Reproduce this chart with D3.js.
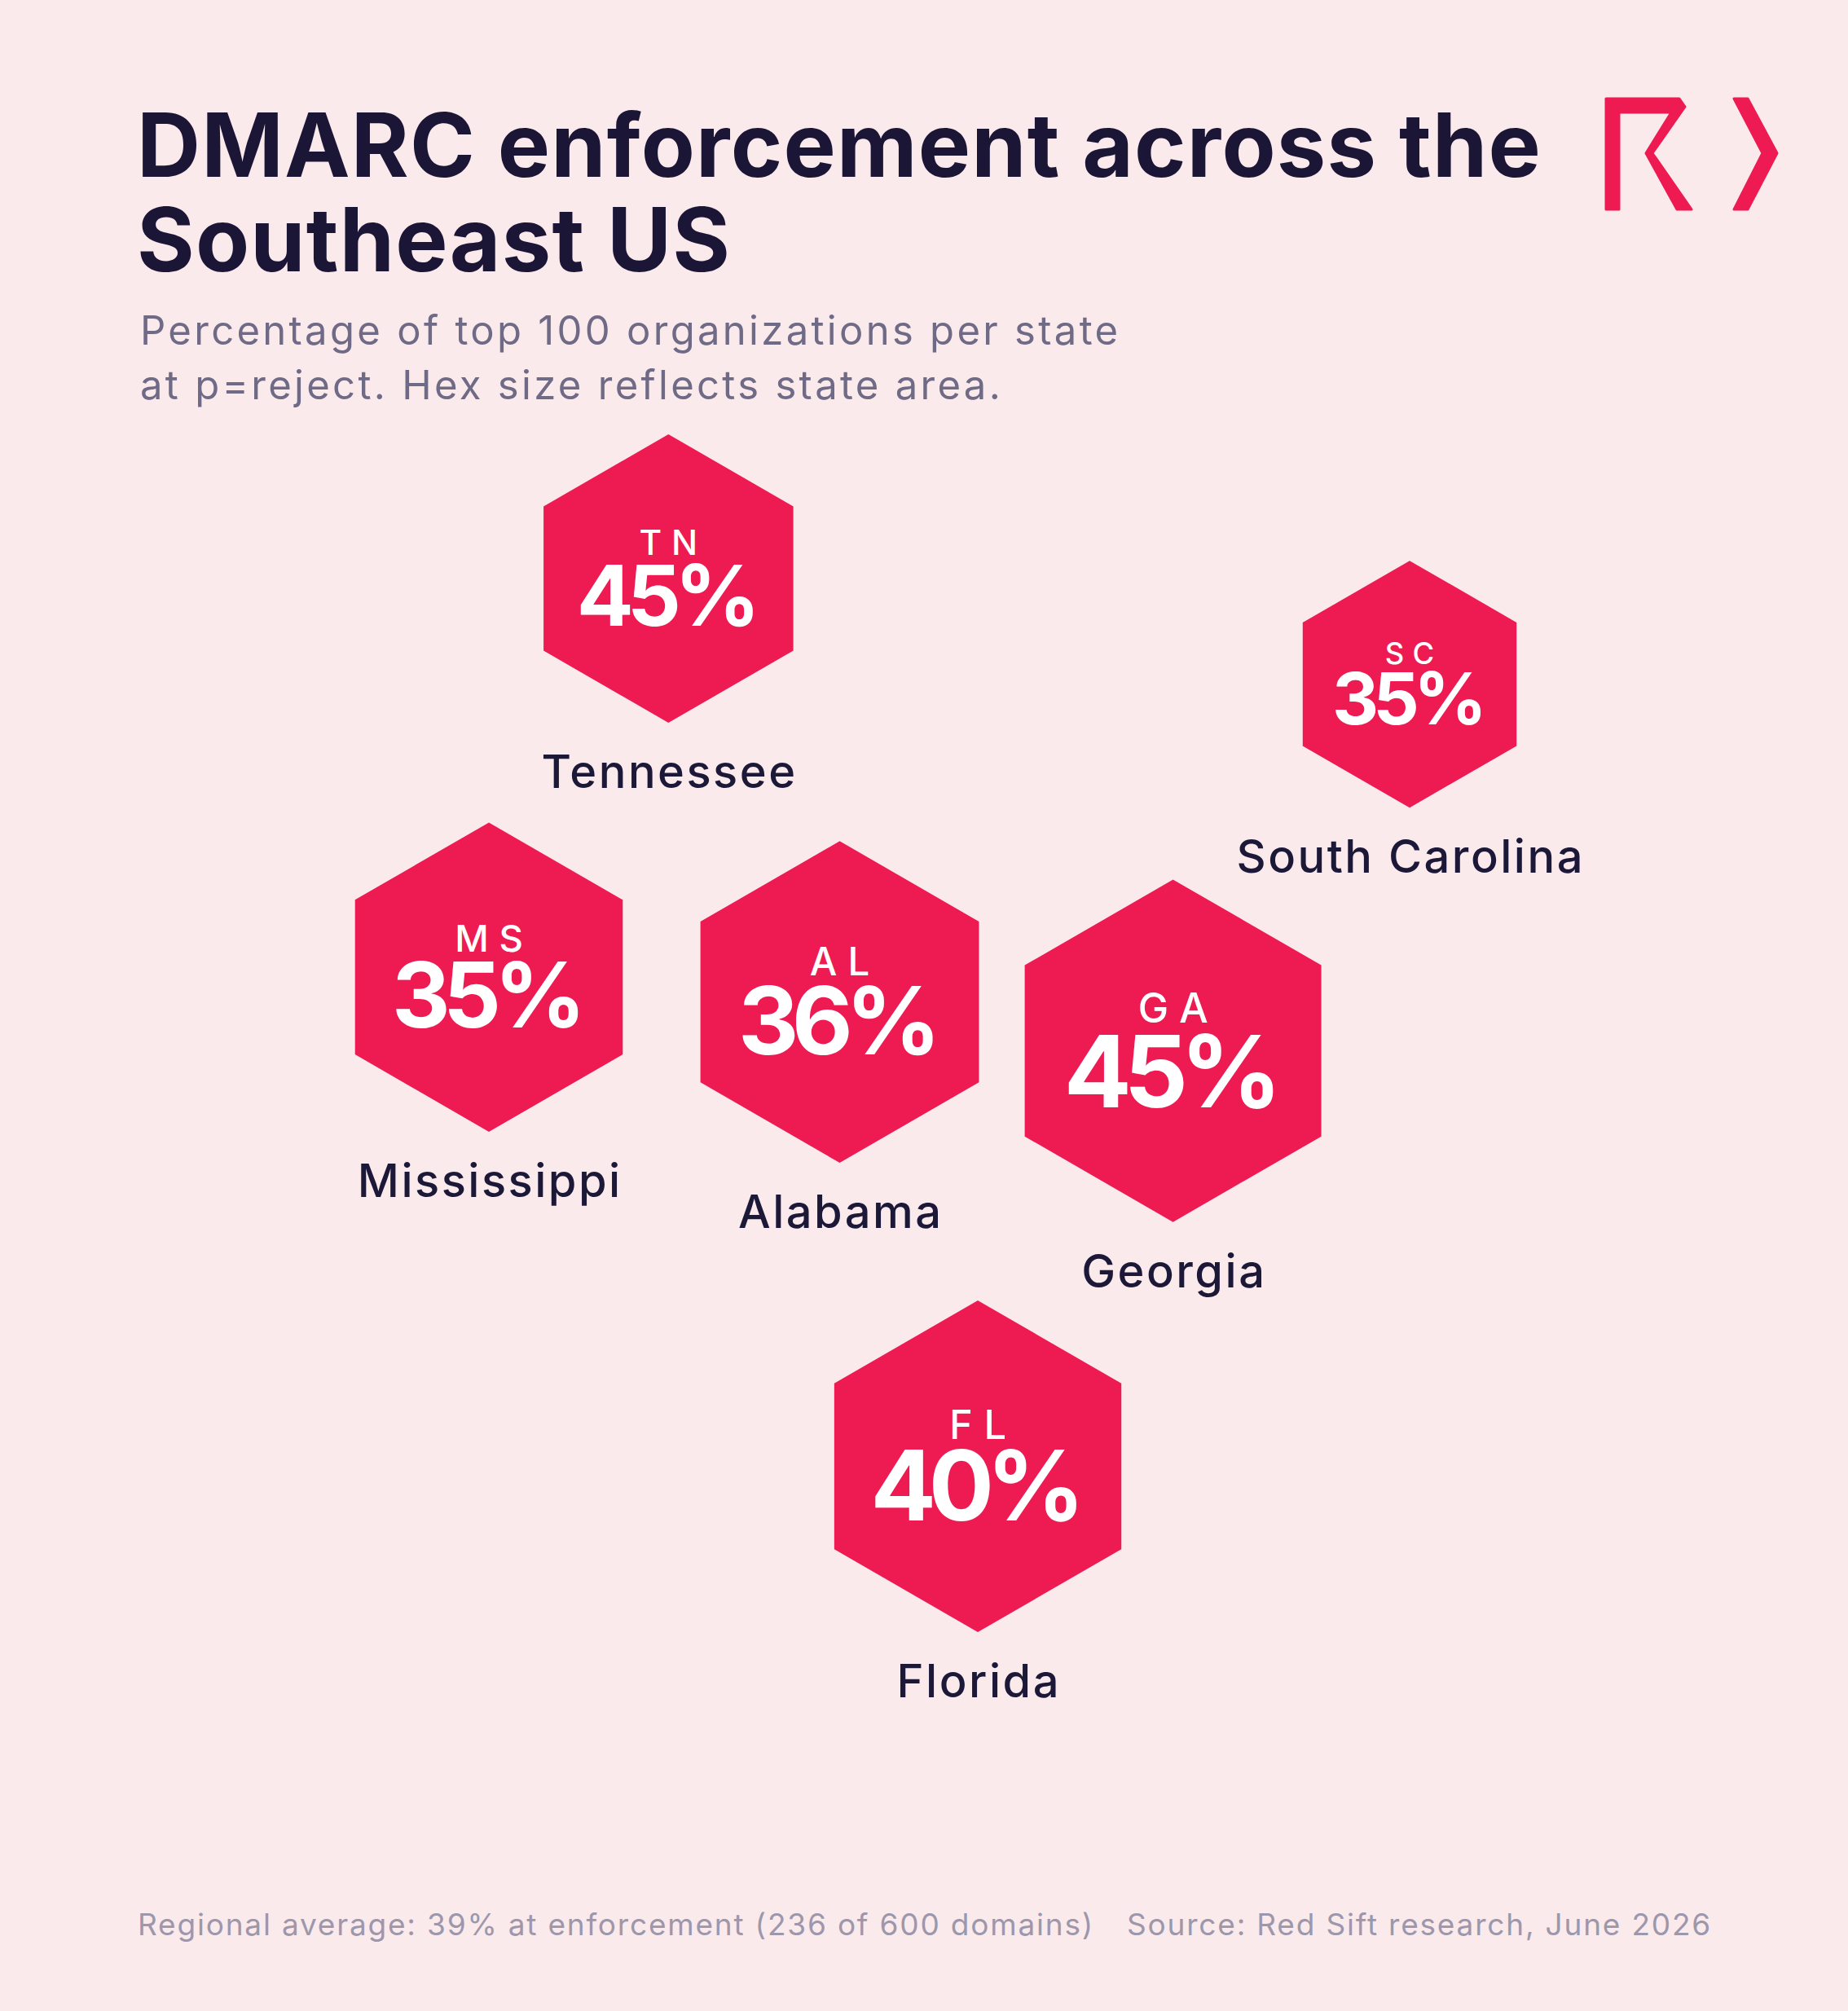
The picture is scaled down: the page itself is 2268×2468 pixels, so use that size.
<!DOCTYPE html>
<html>
<head>
<meta charset="utf-8">
<script src="https://cdn.jsdelivr.net/npm/d3@7"></script>
<style>
  html, body { margin: 0; padding: 0; background: #fbeaec; }
  svg { display: block; }
  text { font-family: Inter, "Noto Sans", sans-serif; }
</style>
</head>
<body>
<svg id="chart" width="2268" height="2468"></svg>
<script>
// ---- data ----
const states      = ["Tennessee", "South Carolina", "Mississippi", "Alabama", "Georgia", "Florida"];
const abbrevs     = ["TN", "SC", "MS", "AL", "GA", "FL"];
const pctReject   = [45, 35, 35, 36, 45, 40];            // % of top 100 orgs at p=reject
const stateArea   = [42144, 30900, 48430, 52420, 59425, 55700];
const layoutCol   = [0.195, 1.0, 0.0, 0.381, 0.743, 0.531]; // relative layout position
const layoutRow   = [0.0, 0.119, 0.449, 0.477, 0.532, 1.0];
const orgsPerState = 100;

const titleLines    = ["DMARC enforcement across the", "Southeast US"];
const subtitleLines = ["Percentage of top 100 organizations per state", "at p=reject. Hex size reflects state area."];
const sourceText    = "Source: Red Sift research, June 2026";

// ---- setup ----
const W = 2268, H = 2468;
const svg = d3.select("#chart");
svg.append("rect").attr("width", W).attr("height", H).attr("fill", "#fbeaec");

const COLOR_HEX = "#ee1a52";
const COLOR_INK = "#1c1838";

// title
svg.append("g").selectAll("text").data(titleLines).join("text")
  .attr("x", 168).attr("y", (d, i) => 217 + i * 116)
  .attr("font-size", 108).attr("font-weight", 700)
  .attr("fill", "#1b1536").attr("letter-spacing", 1.2)
  .text(d => d);

// subtitle
svg.append("g").selectAll("text").data(subtitleLines).join("text")
  .attr("x", 172).attr("y", (d, i) => 423 + i * 67)
  .attr("font-size", 49).attr("font-weight", 400)
  .attr("fill", "#6f6a85").attr("letter-spacing", 3.3)
  .text(d => d);

// logo
const logo = svg.append("g").attr("fill", COLOR_HEX).attr("stroke", COLOR_HEX)
  .attr("stroke-width", 3).attr("stroke-linejoin", "round");
logo.append("path").attr("d",
  "M1971,121 L2061,121 L2068,131 L2028,188 L2076,257 L2058,257 L2020,188 L2051,138 L1987,138 L1987,257 L1971,257 Z");
logo.append("path").attr("d",
  "M2128,121 L2145,121 L2181,188 L2145,257 L2128,257 L2163,188 Z");

// scales
const x = d3.scaleLinear().domain([0, 1]).range([600, 1730]);
const y = d3.scaleLinear().domain([0, 1]).range([710, 1799.5]);
const r = d3.scaleSqrt().domain([0, d3.max(stateArea)]).range([0, 0.862 * Math.sqrt(d3.max(stateArea))]);

const data = states.map((s, i) => ({
  name: s, abbr: abbrevs[i], pct: pctReject[i], area: stateArea[i],
  cx: x(layoutCol[i]), cy: y(layoutRow[i]), R: r(stateArea[i])
}));

function hexPath(cx, cy, R) {
  const pts = d3.range(6).map(k => {
    const a = -Math.PI / 2 + k * Math.PI / 3;
    return [cx + R * Math.cos(a), cy + R * Math.sin(a)];
  });
  return d3.line()(pts) + "Z";
}

const g = svg.append("g").selectAll("g").data(data).join("g");

g.append("path")
  .attr("d", d => hexPath(d.cx, d.cy, d.R))
  .attr("fill", COLOR_HEX);

g.append("text")
  .attr("x", d => d.cx).attr("y", d => d.cy - 0.164 * d.R)
  .attr("text-anchor", "middle")
  .attr("font-size", d => 0.24 * d.R).attr("font-weight", 500)
  .attr("letter-spacing", d => 0.24 * d.R * 0.28)
  .attr("fill", "#ffffff")
  .attr("dx", d => 0.24 * d.R * 0.14)
  .text(d => d.abbr);

g.append("text")
  .attr("x", d => d.cx).attr("y", d => d.cy + 0.328 * d.R)
  .attr("text-anchor", "middle")
  .attr("font-size", d => 0.585 * d.R).attr("font-weight", 700)
  .attr("letter-spacing", d => -0.045 * d.R)
  .attr("dx", d => -0.0225 * d.R)
  .attr("fill", "#ffffff")
  .text(d => d.pct + "%");

g.append("text")
  .attr("x", d => d.cx).attr("y", d => d.cy + d.R + 80)
  .attr("text-anchor", "middle")
  .attr("font-size", 56).attr("font-weight", 500)
  .attr("letter-spacing", 2.5).attr("dx", 1.25)
  .attr("fill", COLOR_INK)
  .text(d => d.name);

// footer
const totalAtReject = d3.sum(pctReject);
const totalDomains = orgsPerState * states.length;
const avg = Math.round(totalAtReject / totalDomains * 100);
svg.append("text")
  .attr("x", 169).attr("y", 2375)
  .attr("font-size", 37).attr("fill", "#9d97ab").attr("letter-spacing", 1.8)
  .text(`Regional average: ${avg}% at enforcement (${totalAtReject} of ${totalDomains} domains)`);
svg.append("text")
  .attr("x", 1383).attr("y", 2375)
  .attr("font-size", 37).attr("fill", "#9d97ab").attr("letter-spacing", 1.8)
  .text(sourceText);
</script>
</body>
</html>
